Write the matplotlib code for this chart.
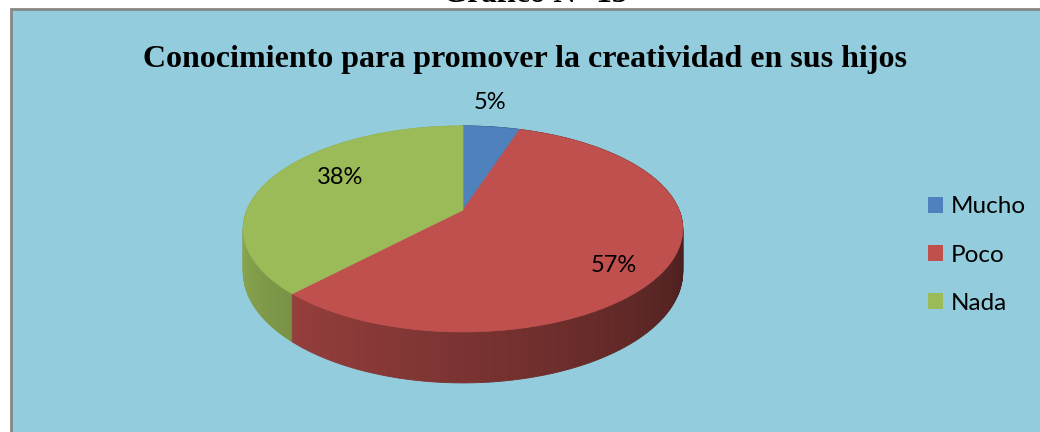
#!/usr/bin/env python3
"""3D-style pie chart: Conocimiento para promover la creatividad."""

import matplotlib

matplotlib.use("Agg")
import matplotlib.pyplot as plt
import numpy as np
from matplotlib.patches import Patch, Polygon, Rectangle

categories = ["Mucho", "Poco", "Nada"]
percent = [5, 57, 38]
colors = ["#4F81BD", "#C0504D", "#9BBB59"]
label_radius = [1.35, 0.81, 0.70]
label_shift = [-2.4, 7.8, 8.7]  # degrees
title = "Conocimiento para promover la creatividad en sus hijos"
caption = "Gráfico N° 13"

W, H = 1040, 432
CX, CY = 463, 210
RX, RY = 216, 99.5
K = 0.184
DEPTH = 41.6
BG = "#93CDDD"


def project(theta, dy=0.0, r=1.0):
    u = r * np.sin(theta)
    v = r * np.cos(theta)
    p = 1.0 / (1.0 + K * v)
    return CX + RX * u * p, CY - RY * v * p + dy * p


def shade(rgb, theta):
    f = np.clip(0.39 + (np.degrees(theta) - 105) * 0.0033, 0.36, 0.88)
    return tuple(np.array(rgb) * f)


fig = plt.figure(figsize=(W / 100, H / 100), dpi=100)
fig.patch.set_facecolor("white")
ax = fig.add_axes([0, 0, 1, 1])
ax.set_xlim(0, W)
ax.set_ylim(H, 0)
ax.axis("off")

ax.add_patch(Rectangle((10.5, 8.5), W + 20, H + 20, facecolor=BG, edgecolor="#878787", lw=2))

ax.text(535, 2, caption, ha="center", va="baseline", fontsize=22.5,
        fontweight="bold", fontfamily="Liberation Serif")
ax.text(525, 67, title, ha="center", va="baseline", fontsize=23,
        fontweight="bold", fontfamily="Liberation Serif")

# slice angles, clockwise from top
fracs = np.array(percent) / np.sum(percent)
bounds = np.concatenate([[0], np.cumsum(fracs)]) * 2 * np.pi

# side walls, drawn far to near
quads = []
for i, col in enumerate(colors):
    rgb = matplotlib.colors.to_rgb(col)
    ts = np.linspace(bounds[i], bounds[i + 1], max(int(percent[i] * 4), 4))
    for a, b in zip(ts[:-1], ts[1:]):
        x1, y1 = project(a)
        x2, y2 = project(b)
        x3, y3 = project(b, DEPTH)
        x4, y4 = project(a, DEPTH)
        c = shade(rgb, (a + b) / 2)
        depth_key = np.cos((a + b) / 2)
        quads.append((depth_key, [(x1, y1), (x2, y2), (x3, y3), (x4, y4)], c))
quads.sort(key=lambda q: -q[0])
for _, pts, c in quads:
    ax.add_patch(Polygon(pts, closed=True, facecolor=c, edgecolor=c, lw=0.6))

# top face
for i, col in enumerate(colors):
    ts = np.linspace(bounds[i], bounds[i + 1], 200)
    xs, ys = project(ts)
    pts = [(CX, CY)] + list(zip(xs, ys))
    ax.add_patch(Polygon(pts, closed=True, facecolor=col, edgecolor=col, lw=0.5))

# data labels
for i in range(len(categories)):
    mid = (bounds[i] + bounds[i + 1]) / 2 + np.radians(label_shift[i])
    lx, ly = project(mid, r=label_radius[i])
    ax.text(lx, ly, f"{percent[i]}%", ha="center", va="center", fontsize=17,
            fontfamily="Lato")

handles = [Patch(facecolor=c, edgecolor="none") for c in colors]
ax.legend(handles, categories, loc="center left", bbox_to_anchor=(928 / W, 1 - 255 / H),
          frameon=False, prop={"family": "Lato", "size": 17.5}, labelspacing=1.12,
          handlelength=0.62, handleheight=0.62, handletextpad=0.3, borderpad=0,
          borderaxespad=0)

fig.savefig("out.png", dpi=100)
